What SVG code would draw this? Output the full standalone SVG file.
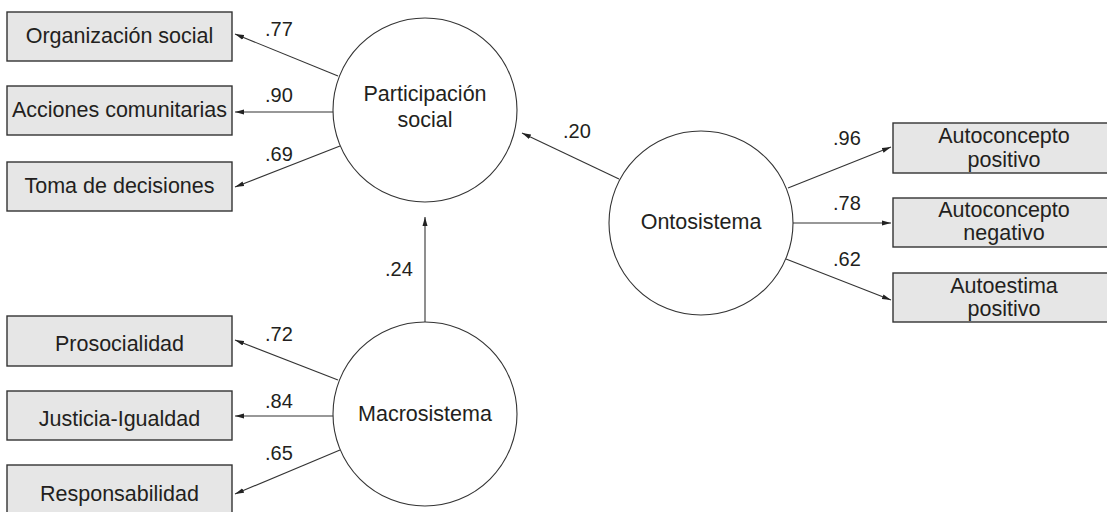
<svg xmlns="http://www.w3.org/2000/svg" width="1107" height="512" viewBox="0 0 1107 512">
<style>
.box{fill:#e6e6e6;stroke:#333;stroke-width:1.4}
.lat{fill:#fff;stroke:#333;stroke-width:1.1}
.lbl{font-family:"Liberation Sans",Arial,sans-serif;font-size:21.5px;fill:#231f20;text-anchor:middle}
.num{font-family:"Liberation Sans",Arial,sans-serif;font-size:20px;fill:#231f20}
.edge{stroke:#333;stroke-width:1.1;fill:none;marker-end:url(#ah)}
</style>
<defs>
<marker id="ah" markerUnits="userSpaceOnUse" markerWidth="10" markerHeight="6" refX="9" refY="3" orient="auto">
<path d="M0,0.5 L9,3 L0,5.5 z" fill="#222"/>
</marker>
</defs>
<rect width="1107" height="512" fill="#fff"/>
<g id="connectors">
<line class="edge" x1="338" y1="76" x2="235" y2="34"/>
<line class="edge" x1="333" y1="112" x2="235" y2="112"/>
<line class="edge" x1="340" y1="146" x2="235" y2="187"/>
<line class="edge" x1="338" y1="380" x2="235" y2="340"/>
<line class="edge" x1="333" y1="416" x2="235" y2="416"/>
<line class="edge" x1="340" y1="450" x2="235" y2="494"/>
<line class="edge" x1="425" y1="322" x2="425" y2="217"/>
<line class="edge" x1="619" y1="179" x2="522" y2="133"/>
<line class="edge" x1="788" y1="188" x2="891" y2="147"/>
<line class="edge" x1="793" y1="223" x2="891" y2="223"/>
<line class="edge" x1="786" y1="259" x2="891" y2="300"/>
<text class="num" x="265" y="36">.77</text>
<text class="num" x="265" y="102">.90</text>
<text class="num" x="265" y="161">.69</text>
<text class="num" x="265" y="341">.72</text>
<text class="num" x="265" y="408">.84</text>
<text class="num" x="265" y="460">.65</text>
<text class="num" x="385" y="276">.24</text>
<text class="num" x="563" y="138">.20</text>
<text class="num" x="833" y="145">.96</text>
<text class="num" x="833" y="210">.78</text>
<text class="num" x="833" y="266">.62</text>
</g>
<g id="n-org"><rect class="box" x="7" y="12" width="225" height="49"/><text class="lbl" x="119.5" y="43">Organización social</text></g>
<g id="n-acc"><rect class="box" x="7" y="86" width="225" height="49"/><text class="lbl" x="119.5" y="117">Acciones comunitarias</text></g>
<g id="n-toma"><rect class="box" x="7" y="162" width="225" height="49"/><text class="lbl" x="119.5" y="193">Toma de decisiones</text></g>
<g id="n-pros"><rect class="box" x="7" y="316" width="225" height="50"/><text class="lbl" x="119.5" y="351">Prosocialidad</text></g>
<g id="n-just"><rect class="box" x="7" y="391" width="225" height="49"/><text class="lbl" x="119.5" y="426">Justicia-Igualdad</text></g>
<g id="n-resp"><rect class="box" x="7" y="465" width="225" height="60"/><text class="lbl" x="119.5" y="501">Responsabilidad</text></g>
<g id="n-part"><circle class="lat" cx="425" cy="110" r="92"/><text class="lbl" x="425" y="101">Participación</text><text class="lbl" x="425" y="127">social</text></g>
<g id="n-macro"><circle class="lat" cx="425" cy="414" r="92"/><text class="lbl" x="425" y="421">Macrosistema</text></g>
<g id="n-onto"><circle class="lat" cx="701" cy="223" r="92"/><text class="lbl" x="701" y="229">Ontosistema</text></g>
<g id="n-acpos"><rect class="box" x="893" y="123" width="222" height="50"/><text class="lbl" x="1004" y="143">Autoconcepto</text><text class="lbl" x="1004" y="167">positivo</text></g>
<g id="n-acneg"><rect class="box" x="893" y="198" width="222" height="49"/><text class="lbl" x="1004" y="217">Autoconcepto</text><text class="lbl" x="1004" y="240">negativo</text></g>
<g id="n-aepos"><rect class="box" x="893" y="273" width="222" height="49"/><text class="lbl" x="1004" y="293">Autoestima</text><text class="lbl" x="1004" y="316">positivo</text></g>
</svg>
